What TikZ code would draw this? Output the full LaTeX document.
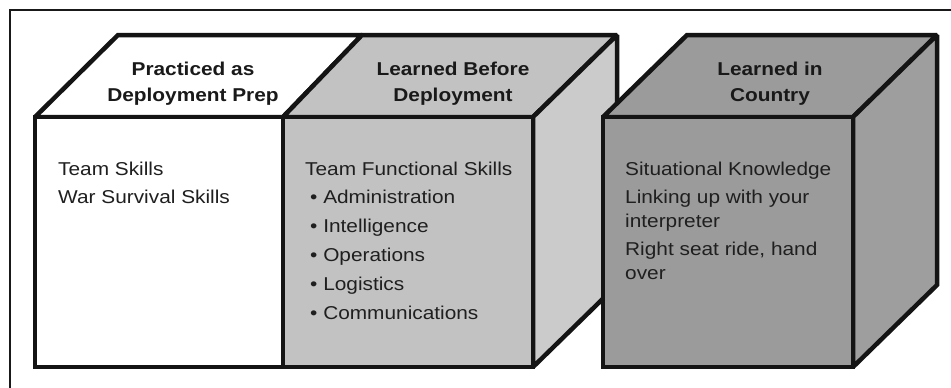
\documentclass[tikz,border=0pt]{standalone}
\usepackage{fontspec}
\setmainfont{Liberation Sans}[FakeStretch=1.12]
\definecolor{midgray}{HTML}{C2C2C2}
\definecolor{sidegray}{HTML}{CBCBCB}
\definecolor{darkface}{HTML}{9B9B9B}
\definecolor{darkside}{HTML}{9E9E9E}
\tikzset{
  frameline/.style={line width=2pt, draw=black!90},
  face/.style={line width=4.5pt, draw=black!92, miter limit=1.5},
  title/.style={anchor=base, inner sep=0pt, font=\fontsize{18.6}{24}\selectfont\bfseries, text=black!90},
  body/.style={anchor=base west, inner sep=0pt, font=\fontsize{18.6}{24}\selectfont, text=black!88},
}
\begin{document}
\begin{tikzpicture}[x=1pt,y=-1pt]
\useasboundingbox (0,0) rectangle (951,388);
\fill[white] (0,0) rectangle (951,388);
% outer frame (top and left only)
\draw[frameline] (10,388) -- (10,10) -- (951,10);
% left + middle block
\filldraw[face, fill=white] (35,117) -- (118,35) -- (362,35) -- (283,117) -- cycle;
\filldraw[face, fill=midgray] (283,117) -- (362,35) -- (617,35) -- (533,117) -- cycle;
\filldraw[face, fill=sidegray] (533,117) -- (617,35) -- (617,285) -- (533,367) -- cycle;
\filldraw[face, fill=white] (35,117) rectangle (283,367);
\filldraw[face, fill=midgray] (283,117) rectangle (533,367);
% right cube
\filldraw[face, fill=darkface] (603,117) -- (687,35) -- (937,35) -- (853,117) -- cycle;
\filldraw[face, fill=darkside] (853,117) -- (937,35) -- (937,285) -- (853,367) -- cycle;
\filldraw[face, fill=darkface] (603,117) rectangle (853,367);
% titles
\node[title] (t1a) at (193,75) {Practiced as};
\node[title] (t1b) at (193,101) {Deployment Prep};
\node[title] (t2a) at (453,75) {Learned Before};
\node[title] (t2b) at (453,101) {Deployment};
\node[title] (t3a) at (770,75) {Learned in};
\node[title] (t3b) at (770,101) {Country};
% left body
\node[body] (l1) at (58,175) {Team Skills};
\node[body] (l2) at (58,203) {War Survival Skills};
% middle body
\node[body] (m0) at (305,175) {Team Functional Skills};
\node[body] (m1) at (310,203.5) {• Administration};
\node[body] (m2) at (310,232.5) {• Intelligence};
\node[body] (m3) at (310,261.5) {• Operations};
\node[body] (m4) at (310,290.5) {• Logistics};
\node[body] (m5) at (310,319) {• Communications};
% right body
\node[body] (r1) at (625,175) {Situational Knowledge};
\node[body] (r2) at (625,203) {Linking up with your};
\node[body] (r3) at (625,227.5) {interpreter};
\node[body] (r4) at (625,255) {Right seat ride, hand};
\node[body] (r5) at (625,279.5) {over};
\end{tikzpicture}
\end{document}
